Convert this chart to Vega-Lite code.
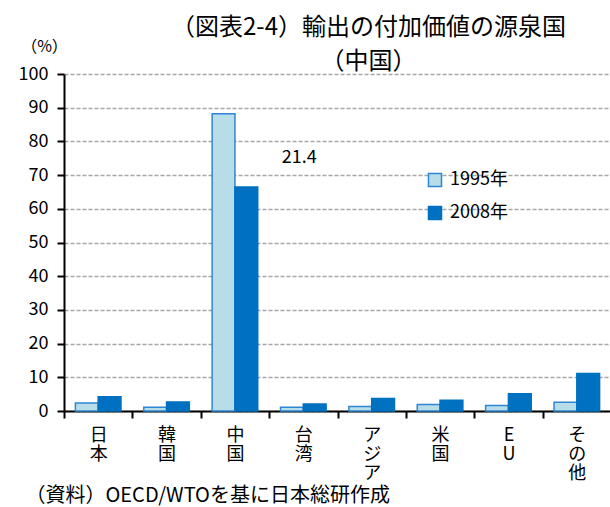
{
  "$schema": "https://vega.github.io/schema/vega-lite/v6.json",
  "width": 547,
  "height": 337,
  "autosize": {"type": "none"},
  "padding": {"left": 64, "top": 74, "right": 0, "bottom": 96},
  "background": "white",
  "config": {"font": "Noto Sans CJK JP", "view": {"stroke": null}},
  "title": {
    "text": ["（図表2-4）輸出の付加価値の源泉国", "（中国）"],
    "fontSize": 24,
    "fontWeight": "normal",
    "color": "black",
    "anchor": "middle",
    "frame": "group",
    "dx": 31,
    "lineHeight": 34,
    "offset": -36
  },
  "data": {
    "values": [
      {"country": "日本", "year": "1995年", "value": 2.4},
      {"country": "日本", "year": "2008年", "value": 4.2},
      {"country": "韓国", "year": "1995年", "value": 1.1},
      {"country": "韓国", "year": "2008年", "value": 2.7},
      {"country": "中国", "year": "1995年", "value": 88.2},
      {"country": "中国", "year": "2008年", "value": 66.5},
      {"country": "台湾", "year": "1995年", "value": 1.1},
      {"country": "台湾", "year": "2008年", "value": 2.1},
      {"country": "アジア", "year": "1995年", "value": 1.3},
      {"country": "アジア", "year": "2008年", "value": 3.7},
      {"country": "米国", "year": "1995年", "value": 1.9},
      {"country": "米国", "year": "2008年", "value": 3.2},
      {"country": "EU", "year": "1995年", "value": 1.6},
      {"country": "EU", "year": "2008年", "value": 5.1},
      {"country": "その他", "year": "1995年", "value": 2.6},
      {"country": "その他", "year": "2008年", "value": 11.1}
    ]
  },
  "encoding": {
    "x": {
      "field": "country",
      "type": "nominal",
      "sort": null,
      "scale": {"domain": ["日本", "韓国", "中国", "台湾", "アジア", "米国", "EU", "その他"], "paddingInner": 0, "paddingOuter": 0},
      "axis": {
        "title": "（資料）OECD/WTOを基に日本総研作成",
        "titleAnchor": "start",
        "titleAlign": "left",
        "titleBaseline": "alphabetic",
        "titleX": -39,
        "titleY": 90,
        "titleFontSize": 20,
        "titleFontWeight": "normal",
        "titleColor": "black",
        "labelAngle": 0,
        "labelExpr": "split(datum.label, '')",
        "labelLineHeight": 19,
        "labelFontSize": 18,
        "labelColor": "black",
        "labelBaseline": "top",
        "labelPadding": 8,
        "labelOverlap": false,
        "tickBand": "extent",
        "domainColor": "black",
        "domainWidth": 2,
        "tickColor": "black",
        "tickWidth": 2,
        "tickSize": 7,
        "grid": false
      }
    },
    "y": {
      "field": "value",
      "type": "quantitative",
      "scale": {"domain": [0, 100], "nice": false},
      "axis": {
        "values": [0, 10, 20, 30, 40, 50, 60, 70, 80, 90, 100],
        "labelOverlap": false,
        "title": "（%）",
        "titleAngle": 0,
        "titleX": -20,
        "titleY": -28,
        "titleAlign": "center",
        "titleBaseline": "middle",
        "titleFontSize": 16,
        "titleFontWeight": "normal",
        "titleColor": "black",
        "domainColor": "black",
        "domainWidth": 2,
        "tickColor": "black",
        "tickWidth": 2,
        "tickSize": 7,
        "labelFontSize": 18,
        "labelColor": "black",
        "labelPadding": 9,
        "gridColor": "#a6a6a6",
        "gridDash": [4, 2],
        "gridWidth": 1.3
      }
    }
  },
  "layer": [
    {
      "mark": {"type": "bar", "strokeWidth": 1.5},
      "encoding": {
        "xOffset": {"field": "year", "type": "nominal", "scale": {"paddingOuter": 0.5, "paddingInner": 0}},
        "color": {
          "field": "year",
          "type": "nominal",
          "scale": {"domain": ["1995年", "2008年"], "range": ["#b7dde8", "#0070c0"]},
          "legend": {
            "title": null,
            "orient": "none",
            "legendX": 362,
            "legendY": 97,
            "symbolType": "square",
            "symbolSize": 170,
            "symbolStrokeWidth": 1.5,
            "labelFontSize": 18,
            "labelColor": "black",
            "rowPadding": 13,
            "labelOffset": 6
          }
        },
        "stroke": {
          "field": "year",
          "type": "nominal",
          "scale": {"domain": ["1995年", "2008年"], "range": ["#2f86d4", "#0070c0"]},
          "legend": {
            "title": null,
            "orient": "none",
            "legendX": 362,
            "legendY": 97,
            "symbolType": "square",
            "symbolSize": 170,
            "symbolStrokeWidth": 1.5,
            "labelFontSize": 18,
            "labelColor": "black",
            "rowPadding": 13,
            "labelOffset": 6
          }
        }
      }
    },
    {
      "data": {"values": [{"country": "台湾", "value": 75, "label": "21.4"}]},
      "mark": {"type": "text", "fontSize": 18, "dx": -4, "color": "black", "baseline": "middle"},
      "encoding": {
        "text": {"field": "label"}
      }
    }
  ]
}
